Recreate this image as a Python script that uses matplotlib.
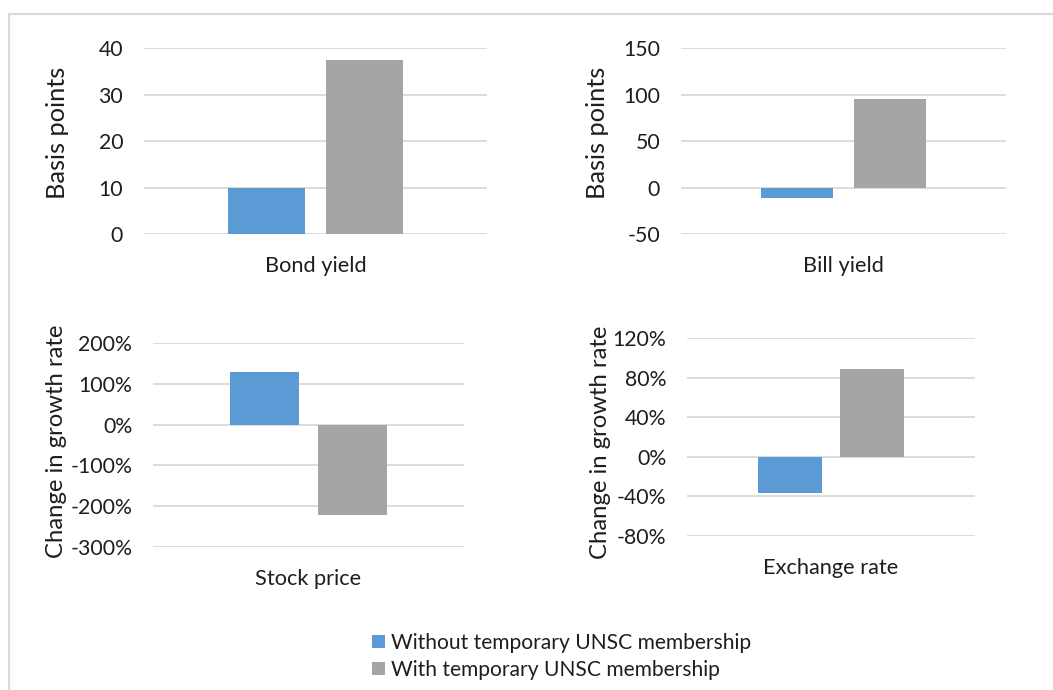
import numpy as np
import matplotlib
matplotlib.use("Agg")
import matplotlib.pyplot as plt
from matplotlib.ticker import FuncFormatter
from matplotlib.patches import Patch
from matplotlib.lines import Line2D

plt.rcParams['font.family'] = ['Lato', 'DejaVu Sans']
plt.rcParams['axes.unicode_minus'] = False

# data
series_names = ['Without temporary UNSC membership', 'With temporary UNSC membership']
colors = ['#5b9bd5', '#a5a5a5']

categories = ['Bond yield', 'Bill yield', 'Stock price', 'Exchange rate']
without_unsc = [10, -11, 130, -37]      # bp, bp, %, %
with_unsc = [37.5, 95, -221, 89]

ylabels = ['Basis points', 'Basis points', 'Change in growth rate', 'Change in growth rate']
ylims = [(0, 40), (-50, 150), (-300, 200), (-80, 120)]
ysteps = [10, 50, 100, 40]
is_pct = [False, False, True, True]

W, H = 1053, 690
TXT = '#1e1e1e'

fig = plt.figure(figsize=(W / 100, H / 100), dpi=100)

# pixel boxes of each plot area: left, top, right, bottom
boxes = [(144, 48.3, 487, 234), (681, 48.3, 1006, 234),
         (153, 343.3, 464, 546.7), (687, 338, 975, 535.7)]
ylab_pos = [(-0.251, 0.547), (-0.258, 0.547), (-0.309, 0.517), (-0.302, 0.471)]
ylab_size = [18.3, 18.3, 17.2, 17.2]

def pct_fmt(v, pos):
    return '%d%%' % round(v)

for i in range(4):
    l, t, r, b = boxes[i]
    ax = fig.add_axes([l / W, 1 - b / H, (r - l) / W, (b - t) / H])
    off = 0.143
    ax.bar(-off, without_unsc[i], width=0.222, color=colors[0], zorder=3)
    ax.bar(off, with_unsc[i], width=0.222, color=colors[1], zorder=3)
    ax.set_xlim(-0.5, 0.5)
    lo, hi = ylims[i]
    ax.set_ylim(lo, hi)
    ax.set_yticks(np.arange(lo, hi + 0.1, ysteps[i]))
    if is_pct[i]:
        ax.yaxis.set_major_formatter(FuncFormatter(pct_fmt))
    ax.set_xticks([0])
    ax.set_xticklabels([categories[i]])
    ax.yaxis.grid(True, color='#d9d9d9', linewidth=1.3)
    ax.set_axisbelow(True)
    for s in ax.spines.values():
        s.set_visible(False)
    ax.tick_params(axis='both', length=0, labelsize=15.3, colors=TXT)
    ax.tick_params(axis='y', pad=15)
    ax.tick_params(axis='x', pad=16, labelsize=15.7)
    ax.text(ylab_pos[i][0], ylab_pos[i][1], ylabels[i], transform=ax.transAxes,
            rotation=90, ha='center', va='center', fontsize=ylab_size[i], color=TXT)

handles = [Patch(facecolor=colors[0], label=series_names[0]),
           Patch(facecolor=colors[1], label=series_names[1])]
fig.legend(handles=handles, loc='upper left', bbox_to_anchor=(353 / W, 1 - 614 / H),
           frameon=False, fontsize=15.1, handlelength=0.62, handleheight=0.62,
           handletextpad=0.3, labelspacing=0.33, labelcolor=TXT)

# outer frame lines
fig.add_artist(Line2D([9 / W, 1], [1 - 14 / H, 1 - 14 / H], color='#d9d9d9', lw=1.5))
fig.add_artist(Line2D([9 / W, 9 / W], [0, 1 - 14 / H], color='#d9d9d9', lw=1.5))

fig.savefig('out.png', dpi=100, facecolor='white')
